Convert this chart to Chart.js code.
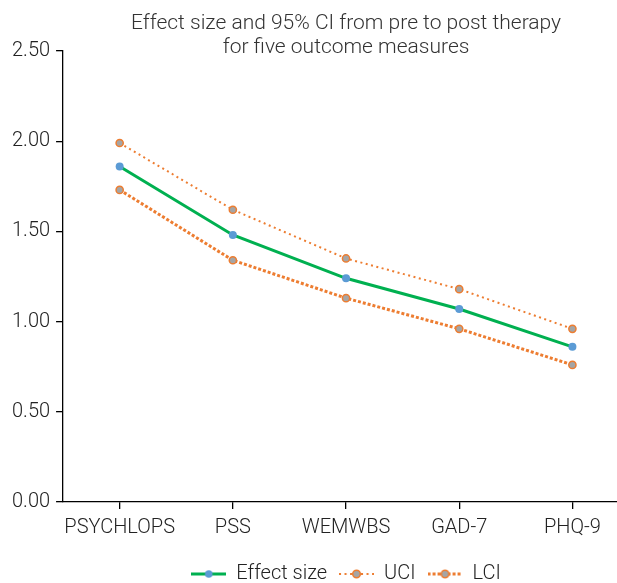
<!DOCTYPE html>
<html>
<head>
<meta charset="utf-8">
<script src="https://cdn.jsdelivr.net/npm/chart.js@4.4.1/dist/chart.umd.min.js"></script>
<style>
  html, body { margin: 0; padding: 0; overflow: hidden; background: #fff; }
  #wrap { width: 640px; height: 583px; position: relative; }
</style>
</head>
<body>
<div id="wrap"><canvas id="c"></canvas></div>
<script>
const categories = ['PSYCHLOPS', 'PSS', 'WEMWBS', 'GAD-7', 'PHQ-9'];
const effectSize = [1.86, 1.48, 1.24, 1.07, 0.86];
const uci = [1.99, 1.62, 1.35, 1.18, 0.96];
const lci = [1.73, 1.34, 1.13, 0.96, 0.76];
const titleLines = ['Effect size and 95% CI from pre to post therapy', 'for five outcome measures'];

const FONT = 'Roboto';
const GREEN = '#00b050', BLUE = '#5b9bd5', ORANGE = '#ed7d31', GREY = '#a5a5a5';

function legendIcon(color, width, dash, ptFill, ptStroke) {
  const w = 35, h = 12;
  const cv = document.createElement('canvas');
  cv.width = w; cv.height = h;
  const g = cv.getContext('2d');
  g.strokeStyle = color; g.lineWidth = width; g.setLineDash(dash);
  g.beginPath(); g.moveTo(0, h / 2); g.lineTo(w, h / 2); g.stroke();
  g.setLineDash([]);
  g.beginPath(); g.arc(w / 2, h / 2, 3.8, 0, Math.PI * 2);
  g.fillStyle = ptFill; g.fill();
  if (ptStroke) { g.strokeStyle = ptStroke; g.lineWidth = 1.5; g.stroke(); }
  return cv;
}
const icons = [
  legendIcon(GREEN, 3, [], BLUE, null),
  legendIcon(ORANGE, 2, [2, 3.5], GREY, ORANGE),
  legendIcon(ORANGE, 3, [3, 2], GREY, ORANGE)
];

const titlePlugin = {
  id: 'titlePlugin',
  afterDraw(chart) {
    const ctx = chart.ctx, a = chart.chartArea;
    const cx = (a.left + a.right) / 2;
    ctx.save();
    ctx.font = '300 21px ' + FONT;
    ctx.fillStyle = '#333';
    ctx.textAlign = 'center';
    ctx.textBaseline = 'middle';
    ctx.fillText(titleLines[0], cx, 24);
    ctx.fillText(titleLines[1], cx, 48);
    ctx.restore();
  }
};

new Chart(document.getElementById('c'), {
  type: 'line',
  data: {
    labels: categories,
    datasets: [
      { label: 'Effect size', data: effectSize, borderColor: GREEN, borderWidth: 3,
        pointBackgroundColor: BLUE, pointBorderColor: BLUE, pointRadius: 4, pointBorderWidth: 0,
        tension: 0, order: 1 },
      { label: 'UCI', data: uci, borderColor: ORANGE, borderWidth: 2, borderDash: [2, 3.5],
        pointBackgroundColor: GREY, pointBorderColor: ORANGE, pointRadius: 3.6, pointBorderWidth: 1.5,
        tension: 0, order: 2 },
      { label: 'LCI', data: lci, borderColor: ORANGE, borderWidth: 3, borderDash: [3, 2],
        pointBackgroundColor: GREY, pointBorderColor: ORANGE, pointRadius: 3.6, pointBorderWidth: 1.5,
        tension: 0, order: 3 }
    ]
  },
  options: {
    responsive: true,
    maintainAspectRatio: false,
    animation: false,
    devicePixelRatio: 1,
    layout: { padding: { top: 51, right: 11, left: 6, bottom: -11 } },
    plugins: {
      tooltip: { enabled: false },
      title: { display: false },
      legend: {
        position: 'bottom',
        fullSize: false,
        labels: {
          usePointStyle: true,
          pointStyleWidth: 35,
          boxHeight: 12,
          padding: 12,
          color: '#222',
          font: { family: FONT, size: 20, weight: '300' },
          generateLabels(chart) {
            const items = Chart.defaults.plugins.legend.labels.generateLabels(chart);
            items.forEach((it, i) => { it.pointStyle = icons[i]; });
            return items;
          }
        }
      }
    },
    scales: {
      x: {
        type: 'category',
        offset: true,
        afterFit(scale) { scale.height += 5; },
        grid: { display: true, drawOnChartArea: false, offset: false, drawTicks: true, tickLength: 7, color: '#000', lineWidth: 1.3 },
        border: { display: true, color: '#000', width: 1.3 },
        ticks: { color: '#222', padding: 7, maxRotation: 0, minRotation: 0, autoSkip: false,
          font: { family: FONT, size: 20, weight: '300' } }
      },
      y: {
        min: 0, max: 2.5,
        grid: { display: true, drawOnChartArea: false, drawTicks: true, tickLength: 7, color: '#000', lineWidth: 1.3 },
        border: { display: true, color: '#000', width: 1.3 },
        ticks: { stepSize: 0.5, color: '#222', padding: 6, font: { family: FONT, size: 20, weight: '300' },
          callback: v => Number(v).toFixed(2) }
      }
    }
  },
  plugins: [titlePlugin]
});
</script>
</body>
</html>
